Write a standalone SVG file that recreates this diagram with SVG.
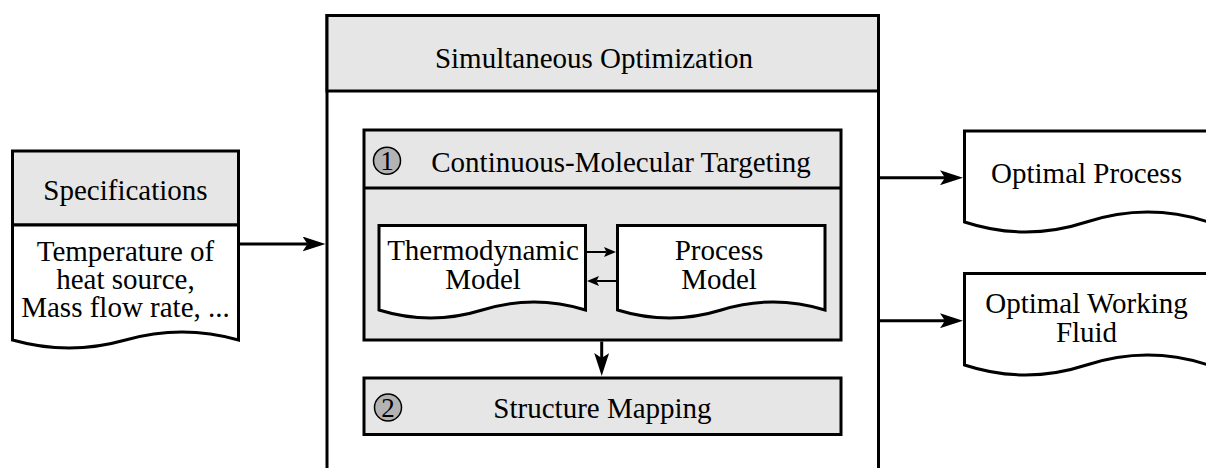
<svg xmlns="http://www.w3.org/2000/svg" width="1206" height="468" viewBox="0 0 1206 468">
<style>
.t{font-family:"Liberation Serif","Times New Roman",serif;font-size:29px;fill:#000;text-anchor:middle}
.g{fill:#e6e6e6;stroke:#000;stroke-width:3}
.w{fill:#fff;stroke:#000;stroke-width:3}
.c{fill:#b3b3b3;stroke:#000;stroke-width:1.5}
.ln{fill:none;stroke:#000;stroke-width:3}
.sl{fill:none;stroke:#000;stroke-width:2}
</style>
<defs>
<marker id="ah" viewBox="0 0 23 15" refX="5" refY="7.5" markerWidth="23" markerHeight="15" markerUnits="userSpaceOnUse" orient="auto">
<path d="M0,0 L23,7.5 L0,15 L5,7.5 Z" fill="#000"/>
</marker>
<marker id="as" viewBox="0 0 12 10" refX="2.5" refY="5" markerWidth="12" markerHeight="10" markerUnits="userSpaceOnUse" orient="auto">
<path d="M0,0 L12,5 L0,10 L2.5,5 Z" fill="#000"/>
</marker>
</defs>
<rect width="1206" height="468" fill="#fff"/>
<g id="simultaneous">
<path class="w" d="M327,470 L327,15.5 L878.5,15.5 L878.5,470"/>
<rect class="g" x="327" y="15.5" width="551.5" height="75.5"/>
<text class="t" x="594" y="68">Simultaneous Optimization</text>
</g>
<g id="specifications">
<rect class="g" x="12.5" y="151" width="226" height="74"/>
<path class="w" d="M12.5,225 L238.5,225 L238.5,340 Q182,324 125.5,340 Q69,356 12.5,340 Z"/>
<text class="t" x="125.5" y="200">Specifications</text>
<text class="t" x="125.5" y="260.5">Temperature of</text>
<text class="t" x="125.5" y="289">heat source,</text>
<text class="t" x="125.5" y="317">Mass flow rate, ...</text>
</g>
<g id="targeting">
<rect class="g" x="364" y="130" width="477" height="210"/>
<line class="ln" x1="364" y1="188" x2="841" y2="188"/>
<circle class="c" cx="387" cy="160.7" r="13.5"/>
<text class="t" x="387" y="170" style="font-size:27px">1</text>
<text class="t" x="621" y="171.5">Continuous-Molecular Targeting</text>
</g>
<g id="thermo">
<path class="w" d="M379,225.5 L585.5,225.5 L585.5,310 Q533.9,294 482.25,310 Q430.6,326 379,310 Z"/>
<text class="t" x="483" y="260">Thermodynamic</text>
<text class="t" x="483" y="289">Model</text>
</g>
<g id="process">
<path class="w" d="M617.5,225.5 L825,225.5 L825,310 Q773.1,294 721.25,310 Q669.4,326 617.5,310 Z"/>
<text class="t" x="719" y="260">Process</text>
<text class="t" x="719" y="289">Model</text>
</g>
<g id="mapping">
<rect class="g" x="364" y="378" width="477" height="56.5"/>
<circle class="c" cx="388" cy="407.5" r="13.5"/>
<text class="t" x="388" y="417" style="font-size:27px">2</text>
<text class="t" x="602.5" y="417.5">Structure Mapping</text>
</g>
<g id="optimal-process">
<path class="w" d="M964.5,131 L1208.5,131 L1208.5,222 Q1147.5,202 1086.5,222 Q1025.5,242 964.5,222 Z"/>
<text class="t" x="1086.5" y="183.3">Optimal Process</text>
</g>
<g id="optimal-fluid">
<path class="w" d="M964.5,273.5 L1208.5,273.5 L1208.5,365 Q1147.5,345 1086.5,365 Q1025.5,385 964.5,365 Z"/>
<text class="t" x="1086.5" y="313">Optimal Working</text>
<text class="t" x="1086.5" y="341.7">Fluid</text>
</g>
<g id="connectors">
<line class="ln" x1="240" y1="244" x2="307.5" y2="244" marker-end="url(#ah)"/>
<line class="ln" x1="880" y1="177.7" x2="945" y2="177.7" marker-end="url(#ah)"/>
<line class="ln" x1="880" y1="320.7" x2="945" y2="320.7" marker-end="url(#ah)"/>
<line class="ln" x1="601.7" y1="341.5" x2="601.7" y2="358" marker-end="url(#ah)"/>
<line class="sl" x1="587" y1="252" x2="606.5" y2="252" marker-end="url(#as)"/>
<line class="sl" x1="616" y1="281" x2="596.5" y2="281" marker-end="url(#as)"/>
</g>
</svg>
